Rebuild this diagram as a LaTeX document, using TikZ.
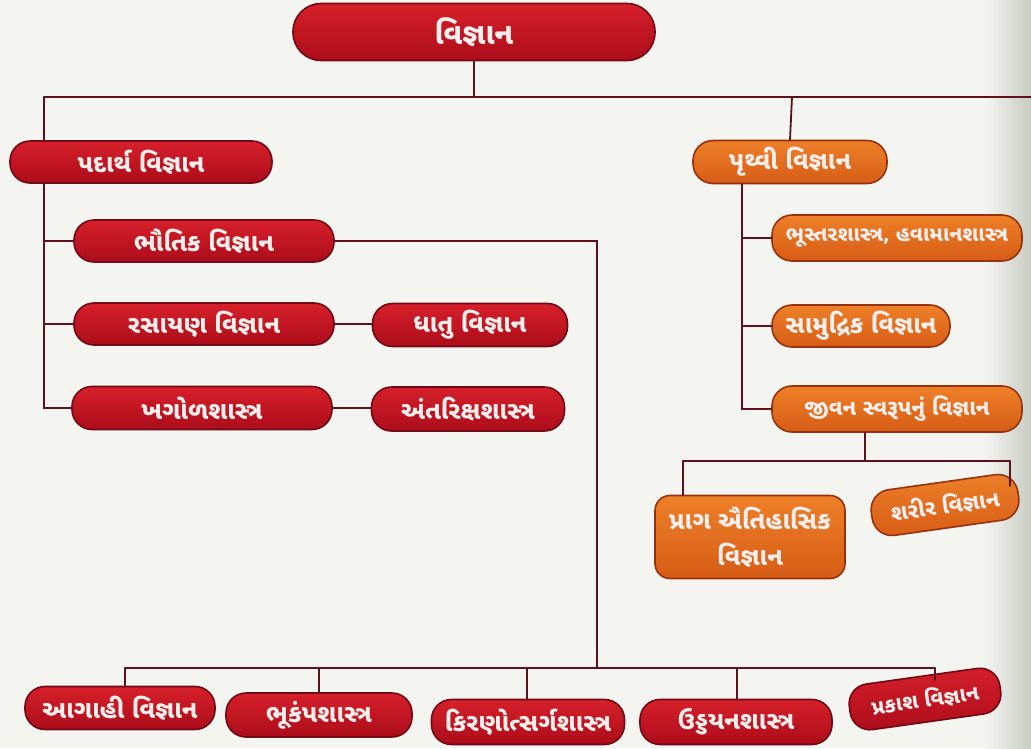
\documentclass[tikz,border=0pt]{standalone}
\usepackage{fontspec}
\newfontfamily\guj[Script=Gujarati]{Noto Sans Gujarati UI}
\definecolor{pagebg}{RGB}{244,244,241}
\definecolor{pageedge}{RGB}{200,204,194}
\definecolor{redtop}{RGB}{214,32,42}
\definecolor{redbot}{RGB}{172,12,26}
\definecolor{redline}{RGB}{112,10,22}
\definecolor{ortop}{RGB}{238,128,40}
\definecolor{orbot}{RGB}{214,92,22}
\definecolor{orline}{RGB}{150,50,16}
\definecolor{wire}{RGB}{92,18,30}
\definecolor{label}{RGB}{255,238,236}
\begin{document}
\begin{tikzpicture}[x=1pt,y=-1pt,
  box/.style={rectangle, rounded corners=20pt, line width=1.6pt, inner sep=0pt,
    align=center, text=label, font=\guj\bfseries\fontsize{25}{30}\selectfont},
  redbox/.style={box, draw=redline, top color=redtop, bottom color=redbot},
  orbox/.style={box, draw=orline, top color=ortop, bottom color=orbot},
  conn/.style={draw=wire, line width=1.8pt, line cap=round}]
  % page
  \fill[pagebg] (0,0) rectangle (1031,748);
  \shade[left color=pagebg, right color=pageedge] (985,0) rectangle (1031,748);
  \useasboundingbox (0,0) rectangle (1031,748);

  % root
  \node[redbox, minimum width=362pt, minimum height=57pt, rounded corners=28pt,
        font=\guj\bfseries\fontsize{30}{34}\selectfont] (sci) at (474,32) {વિજ્ઞાન};

  % left branch
  \node[redbox, minimum width=262pt, minimum height=42pt] (pad) at (141,162) {પદાર્થ વિજ્ઞાન};
  \node[redbox, minimum width=260pt, minimum height=42pt] (bha) at (204,241) {ભૌતિક વિજ્ઞાન};
  \node[redbox, minimum width=260pt, minimum height=42pt] (ras) at (204,324) {રસાયણ વિજ્ઞાન};
  \node[redbox, minimum width=195pt, minimum height=43pt] (dha) at (470,325) {ધાતુ વિજ્ઞાન};
  \node[redbox, minimum width=260pt, minimum height=43pt] (kha) at (202,408) {ખગોળશાસ્ત્ર};
  \node[redbox, minimum width=193pt, minimum height=44pt] (ant) at (468,409) {અંતરિક્ષશાસ્ત્ર};

  % right branch
  \node[orbox, minimum width=194pt, minimum height=43pt] (pru) at (790,162) {પૃથ્વી વિજ્ઞાન};
  \node[orbox, minimum width=250pt, minimum height=46pt,
        font=\guj\bfseries\fontsize{21}{26}\selectfont] (bhu) at (897,238) {ભૂસ્તરશાસ્ત્ર, હવામાનશાસ્ત્ર};
  \node[orbox, minimum width=178pt, minimum height=42pt] (sam) at (861,326) {સામુદ્રિક વિજ્ઞાન};
  \node[orbox, minimum width=250pt, minimum height=46pt,
        font=\guj\bfseries\fontsize{22}{26}\selectfont] (jiv) at (897,409) {જીવન સ્વરૂપનું વિજ્ઞાન};
  \node[orbox, minimum width=190pt, minimum height=83pt, rounded corners=15pt,
        font=\guj\bfseries\fontsize{25}{36}\selectfont] (prag) at (750,537) {પ્રાગ ઐતિહાસિક\\વિજ્ઞાન};
  \node[orbox, minimum width=148pt, minimum height=46pt, rotate=8,
        font=\guj\bfseries\fontsize{22}{26}\selectfont] (sha) at (945,505) {શરીર વિજ્ઞાન};

  % applied sciences along the bottom
  \node[redbox, minimum width=190pt, minimum height=43pt] (aag) at (120,708) {આગાહી વિજ્ઞાન};
  \node[redbox, minimum width=186pt, minimum height=44pt] (bhuk) at (319,715) {ભૂકંપશાસ્ત્ર};
  \node[redbox, minimum width=193pt, minimum height=45pt] (kir) at (528,722) {કિરણોત્સર્ગશાસ્ત્ર};
  \node[redbox, minimum width=192pt, minimum height=45pt] (udd) at (736,722) {ઉડ્ડયનશાસ્ત્ર};
  \node[redbox, minimum width=152pt, minimum height=46pt, rotate=8,
        font=\guj\bfseries\fontsize{21}{26}\selectfont] (prak) at (925,699) {પ્રકાશ વિજ્ઞાન};

  % junction points
  \coordinate (hub) at (474,97);
  \coordinate (tl) at (44,97);
  \coordinate (tr) at (792,97);
  \coordinate (edge) at (1031,97);
  \coordinate (lt) at (44,0);
  \coordinate (rt) at (742,0);
  \coordinate (down) at (597,668);
  \coordinate (jb) at (865,461);
  \coordinate (jl) at (683,461);
  \coordinate (jr) at (1010,461);
  \coordinate (bl) at (125,668);
  \coordinate (br) at (935,668);

  % top level
  \draw[conn] (sci.south) -- (hub);
  \draw[conn] (tl) -- (edge);
  \draw[conn] (tl) -- (lt |- pad.north);
  \draw[conn] (tr) -- (pru.north);

  % left tree
  \draw[conn] (lt |- pad.south) -- (lt |- kha.west) -- (kha.west);
  \draw[conn] (lt |- bha.west) -- (bha.west);
  \draw[conn] (lt |- ras.west) -- (ras.west);
  \draw[conn] (ras.east) -- (ras.east -| dha.west);
  \draw[conn] (kha.east) -- (kha.east -| ant.west);
  \draw[conn] (bha.east) -| (down);

  % right tree
  \draw[conn] (rt |- pru.south) -- (rt |- jiv.west) -- (jiv.west);
  \draw[conn] (rt |- bhu.west) -- (bhu.west);
  \draw[conn] (rt |- sam.west) -- (sam.west);
  \draw[conn] (jb |- jiv.south) -- (jb);
  \draw[conn] (jl) -- (jr);
  \draw[conn] (jl) -- (jl |- prag.north);
  \draw[conn] (jr) -- (1010,486);

  % bottom row
  \draw[conn] (bl) -- (br);
  \draw[conn] (bl) -- (125,687);
  \draw[conn] (319,668) -- (bhuk.north);
  \draw[conn] (527,668) -- (527,700);
  \draw[conn] (737,668) -- (737,700);
  \draw[conn] (br) -- (935,680);
\end{tikzpicture}
\end{document}
